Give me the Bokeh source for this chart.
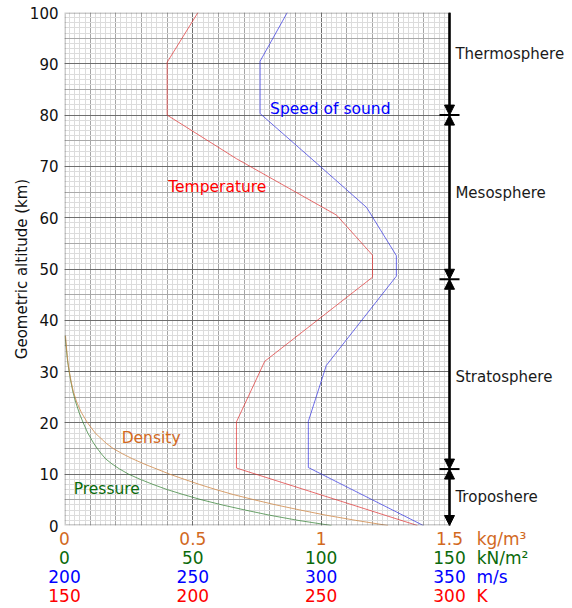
from bokeh.plotting import figure
from bokeh.models import (Range1d, LinearAxis, FixedTicker, SingleIntervalTicker, Grid,
                          NumeralTickFormatter, Label, Arrow, NormalHead, BoxAnnotation)
from bokeh.embed import file_html
from bokeh.resources import INLINE

# ---------------- data ----------------
temp_alt = [0, 11.2, 20.2, 32, 48.4, 52.7, 60.5, 71.5, 80, 90.3, 100]
temperature_k = [287.5, 217, 217, 228, 270, 270, 256, 217, 190, 190, 202]

sound_alt = [0, 11.3, 20.3, 31.2, 48.6, 52.6, 62, 70.5, 80.3, 90.5, 100]
sound_speed = [339.8, 295, 295, 302, 329.3, 329.3, 317.7, 298.5, 276.2, 276.2, 286.8]

dens_alt = [0, 1, 2, 3, 4, 5, 6, 7, 8, 9, 10, 11, 12, 13, 14, 15, 16, 18, 20, 22, 24, 26, 28, 30, 32, 34, 37]
density = [1.26, 1.135, 1.02, 0.92, 0.825, 0.74, 0.66, 0.59, 0.526, 0.467, 0.41, 0.36, 0.31, 0.265,
           0.225, 0.19, 0.163, 0.12, 0.09, 0.066, 0.048, 0.035, 0.026, 0.019, 0.013, 0.009, 0.004]
pressure = [104, 91, 80, 70.5, 61.5, 53.5, 46.5, 40, 34.5, 29.5, 25, 21.5, 18.5, 16, 14.3, 12.8,
            11.4, 9.1, 7.3, 5.7, 4.4, 3.3, 2.5, 1.8, 1.2, 0.8, 0.2]

density_ticks = [0, 0.5, 1, 1.5]
pressure_ticks = [0, 50, 100, 150]
sound_ticks = [200, 250, 300, 350]
temp_ticks = [150, 200, 250, 300]
units = ["kg/m³", "kN/m²", "m/s", "K"]

layer_bounds = [0, 11, 48, 80, 100]
layer_names = ["Troposhere", "Stratosphere", "Mesosphere", "Thermosphere"]
layer_label_alt = [5.6, 28.9, 64.8, 92.0]

# ---------------- layout / style ----------------
FONT = "DejaVu Sans"
C_DENS, C_PRES, C_SND, C_TEMP = "#d2691e", "#0a6a0a", "#0000ff", "#ff0000"
W, H = 572, 608
LEFT, TOP, BOTTOM = 64, 12, 83
SCALE_END = 1.5                      # right end of the graph paper (density units)
PX_PER_UNIT = 385 / SCALE_END        # frame pixels per density unit
X_END = (W - LEFT) / PX_PER_UNIT     # frame extends into the right margin


def unit_pos(start, span, text_px):
    """position (axis units) of a unit label whose left edge sits 27px right of the scale end"""
    off = (27 + text_px / 2) / PX_PER_UNIT
    return start + (SCALE_END + off) * span / SCALE_END


p = figure(width=W, height=H, output_backend="svg", toolbar_location=None,
           x_range=Range1d(0, X_END), y_range=Range1d(0, 100),
           x_axis_location=None, y_axis_location="left",
           min_border_left=LEFT, min_border_right=0, min_border_top=TOP, min_border_bottom=BOTTOM)
p.extra_x_ranges = {"pres": Range1d(0, X_END * 100), "snd": Range1d(200, 200 + X_END * 100),
                    "temp": Range1d(150, 150 + X_END * 100)}
p.xgrid.visible = False
p.ygrid.visible = False
p.outline_line_color = None
p.background_fill_color = "white"
p.border_fill_color = "white"

# graph-paper grid
for interval, color in [(0.02, "#dcdcdc"), (0.1, "#a6a6a6"), (0.5, "#6e6e6e")]:
    p.add_layout(Grid(dimension=0, bounds=(0, SCALE_END),
                      ticker=SingleIntervalTicker(interval=interval, num_minor_ticks=0),
                      grid_line_color=color, grid_line_width=1))
for interval, color in [(1, "#dcdcdc"), (5, "#aaaaaa"), (10, "#6e6e6e")]:
    p.add_layout(Grid(dimension=1, ticker=SingleIntervalTicker(interval=interval, num_minor_ticks=0),
                      grid_line_color=color, grid_line_width=1))
# white mask right of the graph paper
p.add_layout(BoxAnnotation(left=SCALE_END, right=X_END, bottom=0, top=100, fill_color="white",
                           fill_alpha=1, line_color=None, level="underlay"))
# frame border of the graph paper
p.add_layout(BoxAnnotation(left=0, right=SCALE_END, bottom=0, top=100, fill_color=None,
                           fill_alpha=0, line_color="#555555", line_width=3))

# y axis
ya = p.yaxis[0]
ya.ticker = SingleIntervalTicker(interval=10, num_minor_ticks=0)
ya.axis_line_color = None
ya.major_tick_line_color = None
ya.minor_tick_line_color = None
ya.major_tick_out = 0
ya.major_label_standoff = 6
ya.major_label_text_font = FONT
ya.major_label_text_font_size = "15px"
ya.major_label_text_color = "#111111"
ya.axis_label = "Geometric altitude (km)"
ya.axis_label_text_font = FONT
ya.axis_label_text_font_size = "15px"
ya.axis_label_text_font_style = "normal"
ya.axis_label_text_color = "#111111"
ya.axis_label_standoff = -4

# bottom axes (four scales), each with its unit as an extra label at the right
unit_px = [50, 52, 31, 11]
axis_specs = [("default", density_ticks, 0, 1.5, C_DENS, 3),
              ("pres", pressure_ticks, 0, 150, C_PRES, -4),
              ("snd", sound_ticks, 200, 150, C_SND, -4),
              ("temp", temp_ticks, 150, 150, C_TEMP, -4)]
for (rname, ticks, start, span, color, standoff), unit, upx in zip(axis_specs, units, unit_px):
    upos = round(unit_pos(start, span, upx), 4)
    fmt = NumeralTickFormatter(format="0.[0]")
    ax = LinearAxis(x_range_name=rname, ticker=FixedTicker(ticks=ticks + [upos], minor_ticks=[]),
                    formatter=fmt, major_label_overrides={upos: unit})
    ax.axis_line_color = None
    ax.major_tick_line_color = None
    ax.minor_tick_line_color = None
    ax.major_tick_out = 0
    ax.major_tick_in = 0
    ax.major_label_standoff = standoff
    ax.major_label_text_font = FONT
    ax.major_label_text_font_size = "17px"
    ax.major_label_text_color = color
    p.add_layout(ax, "below")

# curves
p.line(pressure, dens_alt, x_range_name="pres", line_color="#2e7d2e", line_alpha=0.7, line_width=1)
p.line(density, dens_alt, line_color="#d08a4a", line_alpha=0.8, line_width=1)
p.line(temperature_k, temp_alt, x_range_name="temp", line_color="#e03030", line_alpha=0.7, line_width=1)
p.line(sound_speed, sound_alt, x_range_name="snd", line_color="#3030e0", line_alpha=0.7, line_width=1)

# curve labels
for txt, x, y, color in [("Speed of sound", 0.801, 81.2, C_SND),
                         ("Temperature", 0.404, 66.0, C_TEMP),
                         ("Density", 0.2226, 17.1, C_DENS),
                         ("Pressure", 0.0358, 7.1, C_PRES)]:
    p.add_layout(Label(x=x, y=y, text=txt, text_font=FONT, text_font_size="15.5px",
                       text_color=color, text_align="left", text_baseline="middle"))

# layer arrows on the right edge
for i in range(len(layer_bounds) - 1):
    lo, hi = layer_bounds[i], layer_bounds[i + 1]
    start_head = NormalHead(size=10, fill_color="black", line_color="black") if hi < 100 else None
    p.add_layout(Arrow(x_start=SCALE_END, y_start=hi, x_end=SCALE_END, y_end=lo,
                       start=start_head,
                       end=NormalHead(size=10, fill_color="black", line_color="black"),
                       line_color="black", line_width=2.5))
for b in layer_bounds[1:-1]:
    p.add_layout(Arrow(x_start=SCALE_END - 0.039, y_start=b, x_end=SCALE_END + 0.039, y_end=b,
                       start=None, end=None, line_color="black", line_width=2))

for name, yy in zip(layer_names, layer_label_alt):
    p.add_layout(Label(x=1.523, y=yy, text=name, text_font=FONT, text_font_size="15px",
                       text_color="#1a1a1a", text_align="left", text_baseline="middle"))

open("out.html", "w").write(file_html(p, INLINE))
